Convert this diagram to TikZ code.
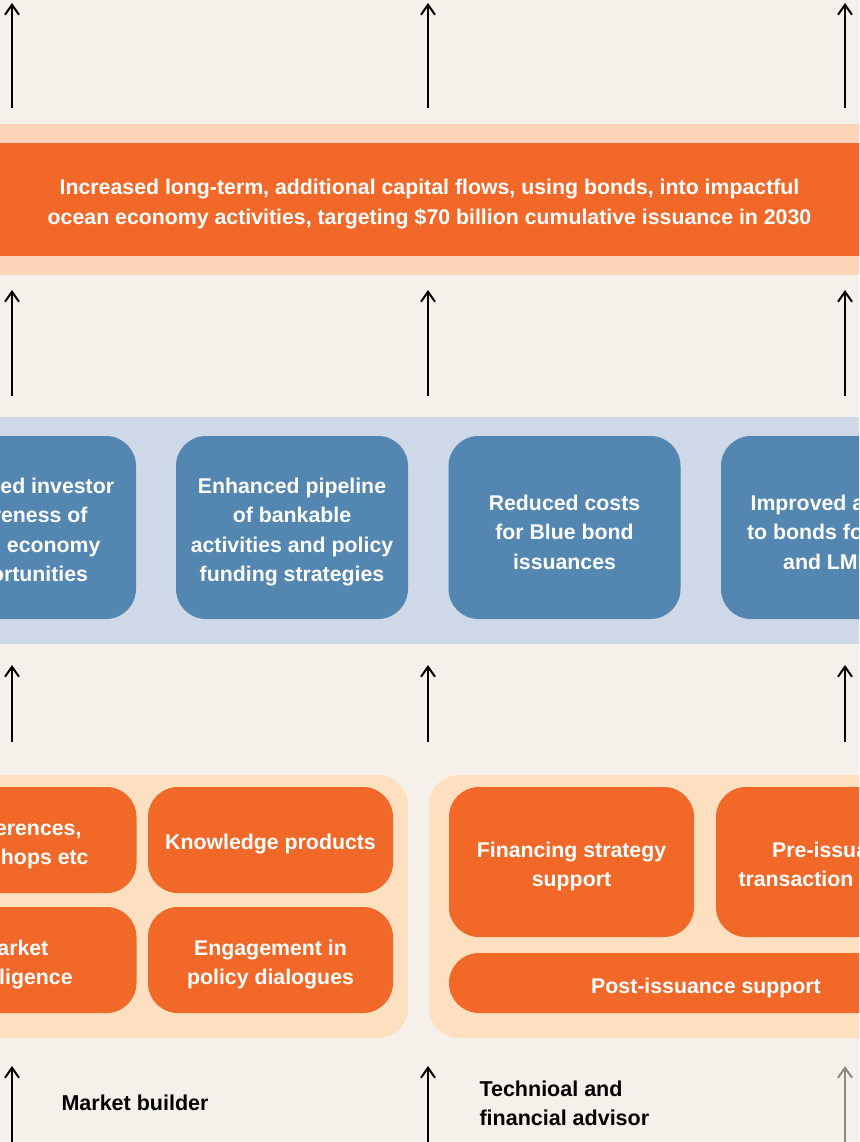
\documentclass[tikz,border=0pt]{standalone}
\usepackage{fontspec}
\setmainfont{Liberation Sans}
\usetikzlibrary{arrows.meta}
\definecolor{bgc}{HTML}{F5F1EA}
\definecolor{orng}{HTML}{F26828}
\definecolor{peachband}{HTML}{FDD4B7}
\definecolor{peachpanel}{HTML}{FEE0C1}
\definecolor{blueband}{HTML}{CED8E6}
\definecolor{bluebox}{HTML}{5386B0}
\definecolor{grayarrow}{HTML}{8C8884}
\begin{document}
\begin{tikzpicture}[x=1pt,y=-1pt,
  arr/.style={line width=2pt,-{Straight Barb[length=10pt,width=14pt,line width=2pt]}},
  txt/.style={text=white,align=center,font=\fontsize{21.3}{29.5}\selectfont\bfseries},
  tshift/.style={yshift=-4.5pt},
  bbox/.style={fill=bluebox,rounded corners=30pt,minimum width=232pt,minimum height=183pt,txt},
  obox/.style={fill=orng,rounded corners=30pt,minimum width=245pt,txt},
  panel/.style={fill=peachpanel,rounded corners=30pt,minimum height=263pt},
  lbl/.style={text=black,align=left,anchor=west,font=\fontsize{21.5}{29}\selectfont\bfseries}]
\useasboundingbox (0,0) rectangle (859,1142);
\clip (0,0) rectangle (859,1142);
\fill[bgc] (0,0) rectangle (859,1142);

% goal band
\node[fill=peachband,minimum width=900pt,minimum height=151pt,inner sep=0pt] (goalband) at (429.5,199.5) {};
\node[fill=orng,minimum width=900pt,minimum height=113pt,inner sep=0pt] (goal) at (429.5,199.5) {};
\node[txt,font=\fontsize{21.3}{29.5}\selectfont\bfseries,tshift] (goaltext) at (goal.center)
  {Increased long-term, additional capital flows, using bonds, into impactful\\ocean economy activities, targeting \$70 billion cumulative issuance in 2030};

% outcome band
\node[fill=blueband,minimum width=900pt,minimum height=227pt,inner sep=0pt] (outband) at (429.5,530.5) {};
\node[bbox] (o1) at (20,527.5) {};
\node[bbox] (o2) at (292,527.5) {};
\node[bbox] (o3) at (564.5,527.5) {};
\node[bbox] (o4) at (837,527.5) {};
\node[txt,tshift] (o1t) at (o1.center) {Increased investor\\awareness of\\ocean economy\\opportunities};
\node[txt,tshift] (o2t) at (o2.center) {Enhanced pipeline\\of bankable\\activities and policy\\funding strategies};
\node[txt,tshift] (o3t) at (o3.center) {Reduced costs\\for Blue bond\\issuances};
\node[txt,tshift] (o4t) at (o4.center) {Improved access\\to bonds for SIDS\\and LMICs};

% activity panels
\node[panel,minimum width=535pt] (mbpanel) at (140.5,906.5) {};
\node[panel,minimum width=554pt] (tfpanel) at (706,906.5) {};
\node[obox,minimum height=106pt] (conf) at (14,840) {};
\node[obox,minimum height=106pt] (know) at (270.5,840) {};
\node[obox,minimum height=106pt] (intel) at (14,960) {};
\node[obox,minimum height=106pt] (engage) at (270.5,960) {};
\node[obox,minimum height=150pt] (finstrat) at (571.5,862) {};
\node[obox,minimum height=150pt] (preiss) at (838.5,862) {};
\node[obox,minimum width=514pt,minimum height=60pt] (postiss) at (706,983) {};
\node[txt,tshift] (conft) at (conf.center) {Conferences,\\workshops etc};
\node[txt,tshift] (knowt) at (know.center) {Knowledge products};
\node[txt,tshift] (intelt) at (intel.center) {Market\\intelligence};
\node[txt,tshift] (engaget) at (engage.center) {Engagement in\\policy dialogues};
\node[txt,tshift] (finstratt) at (finstrat.center) {Financing strategy\\support};
\node[txt,tshift] (preisst) at (preiss.center) {Pre-issuance\\transaction support};
\node[txt,tshift] (postisst) at (postiss.center) {Post-issuance support};

% labels
\node[lbl] (mb) at (58,1103) {Market builder};
\node[lbl] (tf) at (476,1103.5) {Technioal and\\financial advisor};

% arrows
\foreach \i/\x in {1/12,2/428,3/845}{
  \coordinate (ta\i) at (\x,108); \coordinate (tb\i) at (\x,3);
  \coordinate (ma\i) at (\x,396); \coordinate (mb\i) at (\x,290);
  \coordinate (la\i) at (\x,742); \coordinate (lb\i) at (\x,665);
  \coordinate (ba\i) at (\x,1150); \coordinate (bb\i) at (\x,1066);
}
\foreach \i in {1,2,3}{
  \draw[arr] (ta\i) -- (tb\i);
  \draw[arr] (ma\i) -- (mb\i);
  \draw[arr] (la\i) -- (lb\i);
}
\draw[arr] (ba1) -- (bb1);
\draw[arr] (ba2) -- (bb2);
\draw[arr,grayarrow] (ba3) -- (bb3);
\end{tikzpicture}
\end{document}
